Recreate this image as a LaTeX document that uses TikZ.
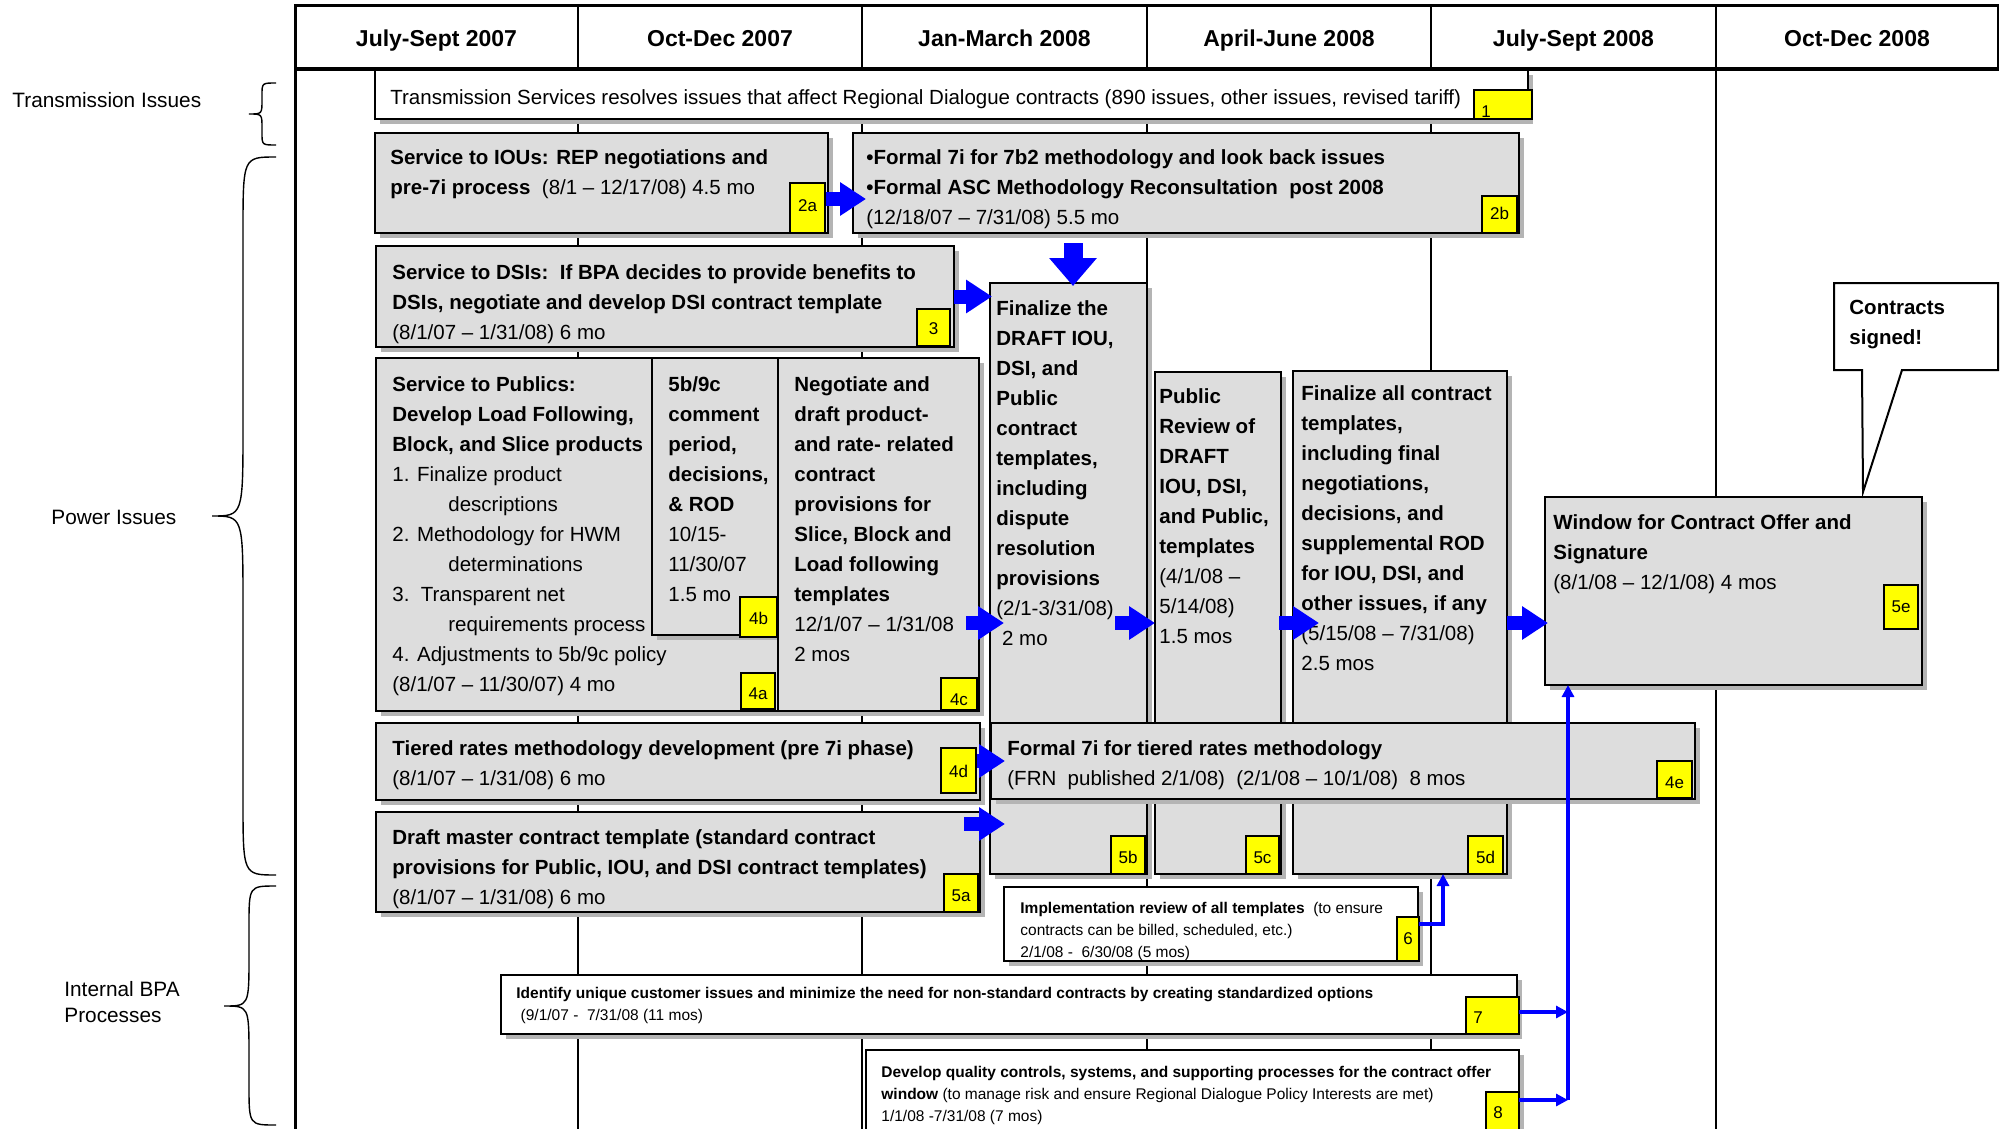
\documentclass[tikz,border=0pt]{standalone}
\usepackage{fontspec}
\setmainfont{Liberation Sans}
\usetikzlibrary{fit,arrows.meta,calc}
\definecolor{boxgray}{HTML}{DDDDDD}
\definecolor{shadowc}{HTML}{B4B4B4}
\definecolor{labyellow}{HTML}{FFFF00}
\definecolor{arrowblue}{HTML}{0000FF}
\newcommand\mybox[6]{%
  \fill[shadowc, shift={(5,5)}] (#2,#3) rectangle (#4,#5);
  \node[boxsty, fill=#6, fit={(#2,#3) (#4,#5)}] (#1) {};}
\newcommand\mylab[5]{%
  \node[labsty, fit={(#2,#3) (#4,#5)}] (#1) {};}
\newcommand\mybrace[8]{%
  \draw[bracesty] (#1,#4) .. controls (#3,#4) .. (#3,{#4+#7}) -- (#3,{#6-#8})
    .. controls (#3,#6) .. (#2,#6) .. controls (#3,#6) .. (#3,{#6+#8})
    -- (#3,{#5-#7}) .. controls (#3,#5) .. (#1,#5);}
\begin{document}
\begin{tikzpicture}[x=0.5pt,y=-0.5pt,
  boxsty/.style={draw=black, line width=1pt, inner sep=0pt, outer sep=0pt},
  labsty/.style={draw=black, line width=0.8pt, fill=labyellow, inner sep=0pt, outer sep=0pt},
  txt/.style={anchor=north west, inner sep=0pt, align=left, font=\fontsize{10.25}{15}\selectfont},
  smalltxt/.style={anchor=north west, inner sep=0pt, align=left, font=\fontsize{7.75}{11}\selectfont},
  labtxt/.style={anchor=base, inner sep=0pt, font=\fontsize{8.5}{10}\selectfont},
  hdr/.style={anchor=base, inner sep=0pt, font=\fontsize{11.5}{14}\selectfont\bfseries},
  side/.style={anchor=base west, inner sep=0pt, font=\fontsize{10.4}{13}\selectfont},
  blockarrow/.style={draw=arrowblue, line width=7pt, -{Triangle[length=13pt,width=16pt]}},
  thinarrow/.style={draw=arrowblue, line width=2pt, -{Triangle[length=6pt,width=6pt]}},
  gridline/.style={draw=black, line width=0.75pt},
  bracesty/.style={draw=black, line width=0.7pt}]
\clip (0,0) rectangle (2007,1129);
\fill[white] (0,0) rectangle (2007,1129);

% grid
\foreach \gx in {578,862,1147,1431,1716} \draw[gridline] (\gx,6) -- (\gx,1129);
\draw[line width=1.5pt] (295,6) -- (295,1129);
\draw[gridline] (1998,6) -- (1998,69);
\draw[line width=1.5pt] (294,6) -- (1999,6);
\draw[line width=2pt] (294,69) -- (1999,69);

% headers
\node[hdr] (h1) at (436.5,46.2) {July-Sept 2007};
\node[hdr] (h2) at (720,46.2) {Oct-Dec 2007};
\node[hdr] (h3) at (1004.5,46.2) {Jan-March 2008};
\node[hdr] (h4) at (1289,46.2) {April-June 2008};
\node[hdr] (h5) at (1573.5,46.2) {July-Sept 2008};
\node[hdr] (h6) at (1857,46.2) {Oct-Dec 2008};

% side labels
\node[side] (s1) at (12,107.4) {Transmission Issues};
\node[side] (s2) at (51,524.4) {Power Issues};
\node[anchor=north west, inner sep=0pt, align=left, font=\fontsize{10.4}{13}\selectfont] (s3) at (64,978.2) {\strut Internal BPA\\Processes};
\mybrace{276}{249}{262}{83}{145}{114}{12}{14}
\mybrace{276}{212}{243}{157}{875}{516}{75}{90}
\mybrace{276}{224}{249}{886}{1125}{1006}{40}{50}

% boxes
\mybox{b1}{375}{70}{1528}{119}{white}
\mybox{b2a}{375}{133}{828}{233}{boxgray}
\mybox{b2b}{853}{133}{1519}{233}{boxgray}
\mybox{b3}{376}{246}{954}{347}{boxgray}
\mybox{b4a}{376}{358}{778}{711}{boxgray}
\mybox{b4b}{652}{358}{778}{635}{boxgray}
\mybox{b4c}{778}{358}{979}{711}{boxgray}
\mybox{b5b}{990}{283}{1147}{874}{boxgray}
\mybox{b5c}{1155}{372}{1281}{874}{boxgray}
\mybox{b5d}{1293}{371}{1507}{874}{boxgray}
\mybox{b5e}{1545}{497}{1922}{685}{boxgray}
\mybox{b4d}{376}{723}{980}{800}{boxgray}
\mybox{b5a}{376}{812}{980}{912}{boxgray}
\mybox{b4e}{991}{723}{1695}{799}{boxgray}
\mybox{b6}{1004}{887}{1418}{961}{white}
\mybox{b7}{501}{975}{1517}{1034}{white}
\mybox{b8}{866}{1050}{1519}{1140}{white}

% callout
\draw[boxsty, fill=white] (1834,283) -- (1998,283) -- (1998,370) -- (1902,370) -- (1863,492) -- (1862,370) -- (1834,370) -- cycle;
\node[txt] (tc) at (1849,293.3) {\strut{\bfseries Contracts}\\{\bfseries signed!}};

% texts
\node[txt] (t1) at (390,83.3) {\strut Transmission Services resolves issues that affect Regional Dialogue contracts (890 issues, other issues, revised tariff)};
\node[txt] (t2a) at (390,143.3) {\strut{\bfseries Service to IOUs: REP negotiations and}\\{\bfseries pre-7i process}\ \ (8/1 – 12/17/08) 4.5 mo};
\node[txt] (t2b) at (866,143.3) {\strut{\bfseries •Formal 7i for 7b2 methodology and look back issues}\\{\bfseries •Formal ASC Methodology Reconsultation\ \ post 2008}\\(12/18/07 – 7/31/08) 5.5 mo};
\node[txt] (t3) at (392,258.3) {\strut{\bfseries Service to DSIs:\ \ If BPA decides to provide benefits to}\\{\bfseries DSIs, negotiate and develop DSI contract template}\\(8/1/07 – 1/31/08) 6 mo};
\node[txt] (t4a) at (392,370.3) {\strut{\bfseries Service to Publics:}\\{\bfseries Develop Load Following,}\\{\bfseries Block, and Slice products}\\1. Finalize product\\\hspace*{28pt}descriptions\\2. Methodology for HWM\\\hspace*{28pt}determinations\\3.\ \ Transparent net\\\hspace*{28pt}requirements process\\4. Adjustments to 5b/9c policy\\(8/1/07 – 11/30/07) 4 mo};
\node[txt] (t4b) at (668,370.3) {\strut{\bfseries 5b/9c}\\{\bfseries comment}\\{\bfseries period,}\\{\bfseries decisions,}\\{\bfseries \& ROD}\\10/15-\\11/30/07\\1.5 mo};
\node[txt] (t4c) at (794,370.3) {\strut{\bfseries Negotiate and}\\{\bfseries draft product-}\\{\bfseries and rate- related}\\{\bfseries contract}\\{\bfseries provisions for}\\{\bfseries Slice, Block and}\\{\bfseries Load following}\\{\bfseries templates}\\12/1/07 – 1/31/08\\2 mos};
\node[txt] (t5b) at (996,294.3) {\strut{\bfseries Finalize the}\\{\bfseries DRAFT IOU,}\\{\bfseries DSI, and}\\{\bfseries Public}\\{\bfseries contract}\\{\bfseries templates,}\\{\bfseries including}\\{\bfseries dispute}\\{\bfseries resolution}\\{\bfseries provisions}\\(2/1-3/31/08)\\\ 2 mo};
\node[txt] (t5c) at (1159,382.3) {\strut{\bfseries Public}\\{\bfseries Review of}\\{\bfseries DRAFT}\\{\bfseries IOU, DSI,}\\{\bfseries and Public,}\\{\bfseries templates}\\(4/1/08 –\\5/14/08)\\1.5 mos};
\node[txt] (t5d) at (1301,379.3) {\strut{\bfseries Finalize all contract}\\{\bfseries templates,}\\{\bfseries including final}\\{\bfseries negotiations,}\\{\bfseries decisions, and}\\{\bfseries supplemental ROD}\\{\bfseries for IOU, DSI, and}\\{\bfseries other issues, if any}\\(5/15/08 – 7/31/08)\\2.5 mos};
\node[txt] (t5e) at (1553,508.3) {\strut{\bfseries Window for Contract Offer and}\\{\bfseries Signature}\\(8/1/08 – 12/1/08) 4 mos};
\node[txt] (t4d) at (392,734.3) {\strut{\bfseries Tiered rates methodology development (pre 7i phase)}\\(8/1/07 – 1/31/08) 6 mo};
\node[txt] (t4e) at (1007,734.3) {\strut{\bfseries Formal 7i for tiered rates methodology}\\(FRN\ \ published 2/1/08)\ \ (2/1/08 – 10/1/08)\ \ 8 mos};
\node[txt] (t5a) at (392,823.3) {\strut{\bfseries Draft master contract template (standard contract}\\{\bfseries provisions for Public, IOU, and DSI contract templates)}\\(8/1/07 – 1/31/08) 6 mo};
\node[smalltxt] (t6) at (1020,898.1) {\strut{\bfseries Implementation review of all templates}\ \ (to ensure\\contracts can be billed, scheduled, etc.)\\2/1/08 -\ \ 6/30/08 (5 mos)};
\node[smalltxt] (t7) at (516,983.1) {\strut{\bfseries Identify unique customer issues and minimize the need for non-standard contracts by creating standardized options}\\\ (9/1/07 -\ \ 7/31/08 (11 mos)};
\node[smalltxt] (t8) at (881,1062.1) {\strut{\bfseries Develop quality controls, systems, and supporting processes for the contract offer}\\{\bfseries window} (to manage risk and ensure Regional Dialogue Policy Interests are met)\\1/1/08 -7/31/08 (7 mos)};

% labels
\mylab{l1}{1474}{90}{1532}{119}
\mylab{l2a}{790}{183}{825}{233}
\mylab{l2b}{1482}{196}{1517}{233}
\mylab{l3}{917}{309}{950}{346}
\mylab{l4a}{741}{673}{775}{709}
\mylab{l4b}{740}{597}{777}{637}
\mylab{l4c}{941}{678}{977}{710}
\mylab{l5b}{1111}{836}{1145}{874}
\mylab{l5c}{1246}{836}{1279}{874}
\mylab{l5d}{1468}{836}{1503}{874}
\mylab{l5e}{1884}{585}{1918}{629}
\mylab{l4d}{941}{748}{976}{793}
\mylab{l5a}{944}{874}{978}{912}
\mylab{l4e}{1657}{761}{1692}{798}
\mylab{l6}{1397}{917}{1419}{961}
\mylab{l7}{1466}{997}{1519}{1034}
\mylab{l8}{1486}{1092}{1519}{1140}
\node[labtxt] (n1) at (1486,118) {1};
\node[labtxt] (n2a) at (807.5,211) {2a};
\node[labtxt] (n2b) at (1499.5,219) {2b};
\node[labtxt] (n3) at (933.5,334) {3};
\node[labtxt] (n4a) at (758,699) {4a};
\node[labtxt] (n4b) at (758.5,624) {4b};
\node[labtxt] (n4c) at (959,705) {4c};
\node[labtxt] (n5b) at (1128,863) {5b};
\node[labtxt] (n5c) at (1262.5,863) {5c};
\node[labtxt] (n5d) at (1485.5,863) {5d};
\node[labtxt] (n5e) at (1901,612) {5e};
\node[labtxt] (n4d) at (958.5,777) {4d};
\node[labtxt] (n5a) at (961,901) {5a};
\node[labtxt] (n4e) at (1674.5,788) {4e};
\node[labtxt] (n6) at (1408,944) {6};
\node[labtxt] (n7) at (1478,1023) {7};
\node[labtxt] (n8) at (1498,1118) {8};

% block arrows
\coordinate (ya1) at (0,199);
\coordinate (ya4) at (0,623);
\coordinate (ya8) at (0,761);
\coordinate (ya9) at (0,824);
\draw[blockarrow] ($(b2a.east |- ya1)+(-2,0)$) -- ($(b2b.west |- ya1)+(13,0)$);
\draw[blockarrow, line width=9.5pt, -{Triangle[length=14pt,width=23pt]}] ($(b2b.south)+(-113,10)$) -- ($(b5b.north)+(4.5,3)$);
\draw[blockarrow] (b3.east) -- ($(b3.east -| b5b.west)+(2,0)$);
\draw[blockarrow] ($(b4c.east |- ya4)+(-13,0)$) -- ($(b5b.west |- ya4)+(14,0)$);
\draw[blockarrow] ($(b5b.east |- ya4)+(-32,0)$) -- (b5c.west |- ya4);
\draw[blockarrow] ($(b5c.east |- ya4)+(-2,0)$) -- ($(b5d.west |- ya4)+(26,0)$);
\draw[blockarrow] (b5d.east |- ya4) -- ($(b5e.west |- ya4)+(3,0)$);
\draw[blockarrow] ($(b4d.east |- ya8)+(-3,0)$) -- ($(b4e.west |- ya8)+(14,0)$);
\draw[blockarrow] ($(b5a.east |- ya9)+(-16,0)$) -- ($(b5b.west |- ya9)+(15,0)$);

% thin arrows
\coordinate (c6) at (1443,924);
\coordinate (bus7) at (1568,1012);
\coordinate (bus8) at (1568,1100);
\draw[thinarrow] (l6.east |- c6) -- (c6) -- (c6 |- b5d.south);
\draw[thinarrow] (l7.east |- bus7) -- (bus7);
\draw[thinarrow] (l8.east |- bus8) -- (bus8);
\draw[thinarrow] (bus8) -- (bus8 |- b5e.south);
\end{tikzpicture}
\end{document}
